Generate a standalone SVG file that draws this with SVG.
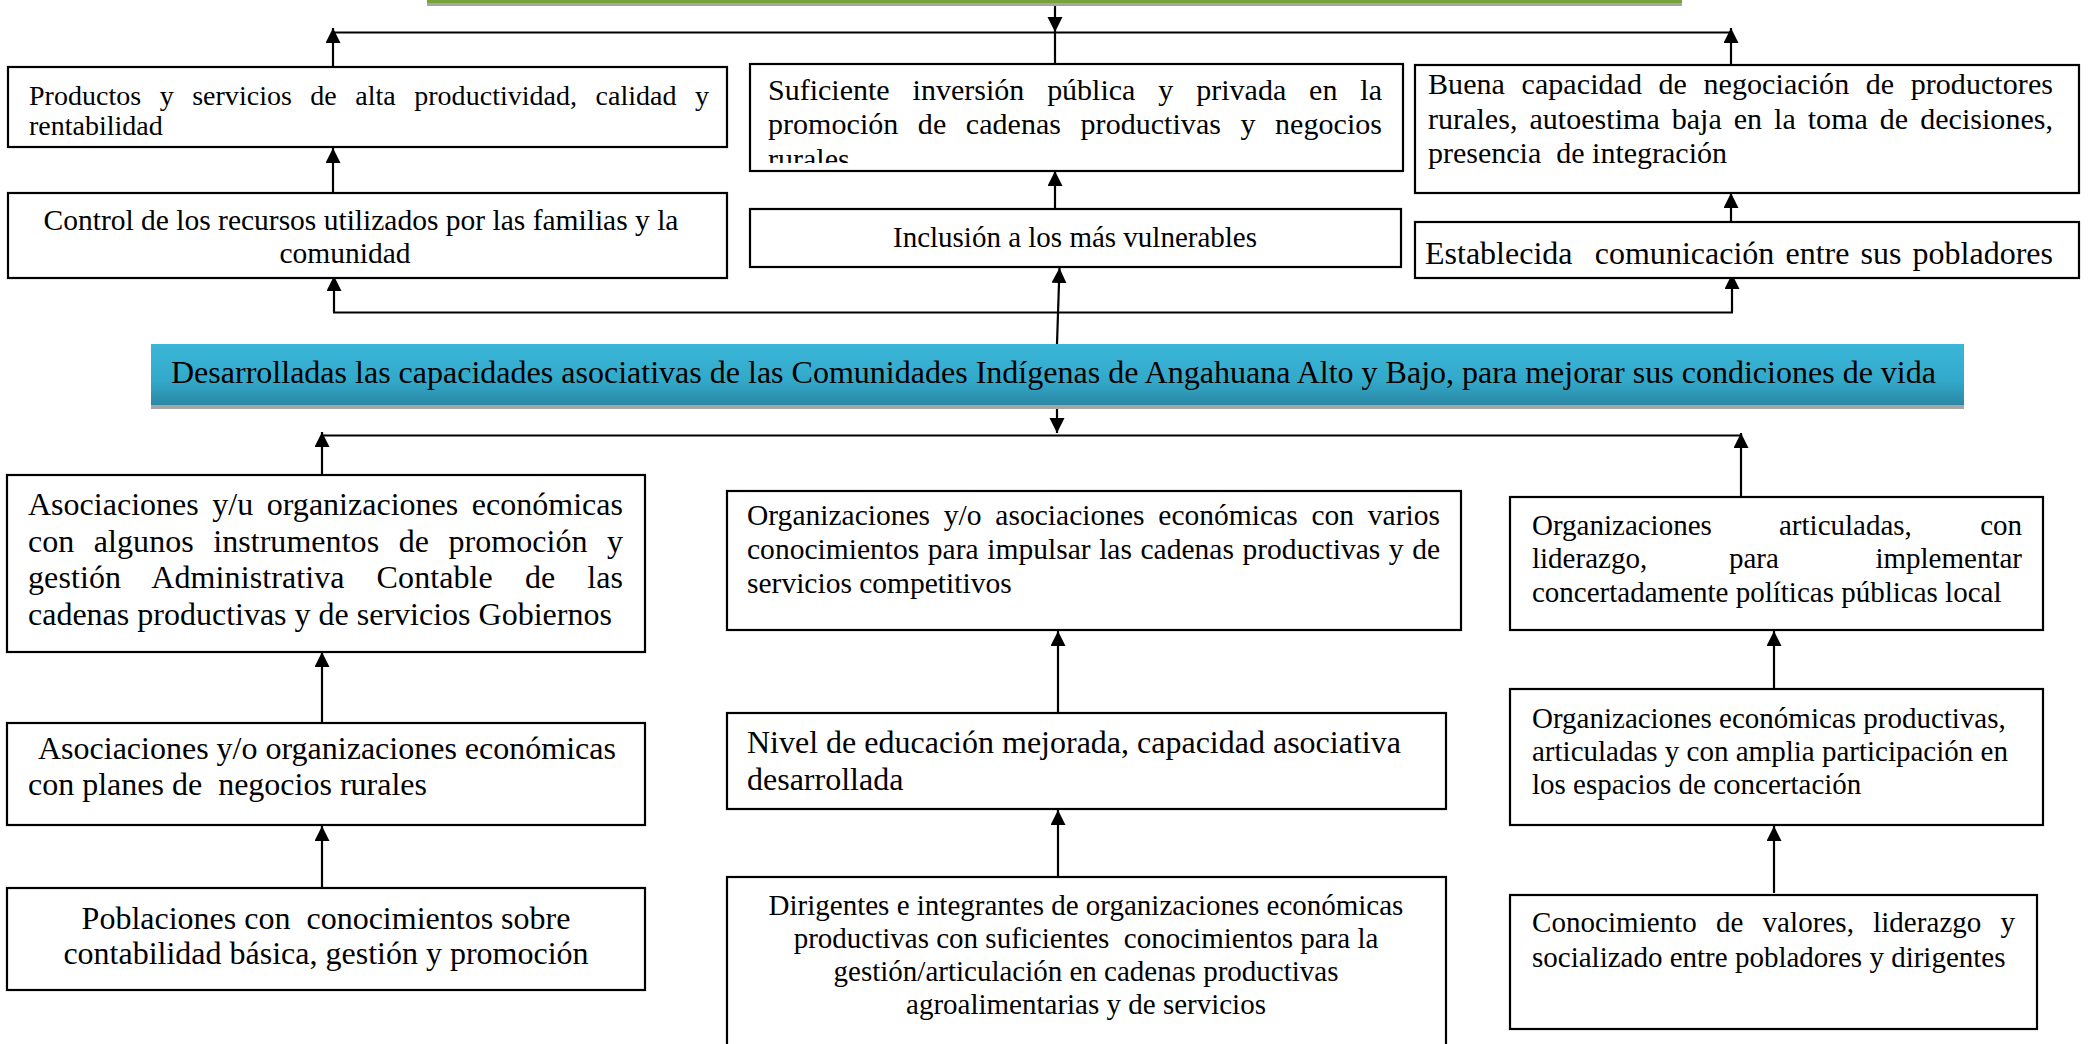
<svg xmlns="http://www.w3.org/2000/svg" width="2089" height="1044" viewBox="0 0 2089 1044">
<style>
.box{fill:#fff;stroke:#000;stroke-width:2.2}
.t{font-family:"Liberation Serif","Times New Roman",serif;fill:#000}
.s28{font-size:28px}.s29{font-size:29px}.s295{font-size:29.5px}.s30{font-size:30px}.s32{font-size:32px}
.c{text-anchor:middle}.e{text-anchor:end}
.ln{fill:none;stroke:#000;stroke-width:2.2}
.ar{fill:none;stroke:#000;stroke-width:2.2;marker-end:url(#ah)}
</style>
<defs>
<marker id="ah" markerWidth="16" markerHeight="16" refX="15" refY="7.5" orient="auto" markerUnits="userSpaceOnUse"><path d="M0,0 L15,7.5 L0,15 z" fill="#000"/></marker>
<linearGradient id="bg" x1="0" y1="0" x2="0" y2="1"><stop offset="0" stop-color="#3ab6d8"/><stop offset="0.6" stop-color="#33a9ca"/><stop offset="1" stop-color="#2a88a4"/></linearGradient>
<clipPath id="clip2"><rect x="750" y="64" width="653" height="99"/></clipPath>
</defs>
<rect width="2089" height="1044" fill="#fff"/>

<g id="goal-bar">
<rect x="427" y="0" width="1255" height="6" fill="#a6a6a6"/>
<rect x="427" y="0" width="1255" height="3" fill="#78a33c"/>
</g>

<g id="connectors">
<path class="ar" d="M1055,6 V32"/>
<path class="ln" d="M1055,32 V64"/>
<path class="ln" d="M333,32.5 H1731"/>
<path class="ar" d="M333,67 V28"/>
<path class="ar" d="M1731,65 V28"/>
<path class="ar" d="M333,193 V148"/>
<path class="ar" d="M1055,209 V171"/>
<path class="ar" d="M1731,222 V193"/>
<path class="ln" d="M333,312.5 H1733"/>
<path class="ar" d="M334,312 V276"/>
<path class="ar" d="M1732,312 V274"/>
<path class="ar" d="M1057,344 L1059.5,268"/>
<path class="ar" d="M1057,409 V433"/>
<path class="ln" d="M322,435.5 H1742"/>
<path class="ar" d="M322,475 V432"/>
<path class="ar" d="M1741,496 V433"/>
<path class="ar" d="M322,723 V652"/>
<path class="ar" d="M322,888 V826"/>
<path class="ar" d="M1058,713 V631"/>
<path class="ar" d="M1058,877 V810"/>
<path class="ar" d="M1774,689 V631"/>
<path class="ar" d="M1774,893 V826"/>
</g>

<g id="n-productos">
<rect class="box" x="8" y="67" width="719" height="80"/>
<text class="t s28" x="29" y="105" word-spacing="11.4" textLength="680" lengthAdjust="spacing">Productos y servicios de alta productividad, calidad y</text>
<text class="t s28" x="29" y="135">rentabilidad</text>
</g>

<g id="n-inversion">
<rect class="box" x="750" y="64" width="653" height="107"/>
<g clip-path="url(#clip2)">
<text class="t s30" x="768" y="100" word-spacing="15.4" textLength="614" lengthAdjust="spacing">Suficiente inversión pública y privada en la</text>
<text class="t s30" x="768" y="134" word-spacing="12" textLength="614" lengthAdjust="spacing">promoción de cadenas productivas y negocios</text>
<text class="t s30" x="768" y="169">rurales</text>
</g>
</g>

<g id="n-negociacion">
<rect class="box" x="1415" y="65" width="664" height="128"/>
<text class="t s30" x="1428" y="94" word-spacing="8.9" textLength="625" lengthAdjust="spacing">Buena capacidad de negociación de productores</text>
<text class="t s30" x="1428" y="128.5" word-spacing="4.4" textLength="625" lengthAdjust="spacing">rurales, autoestima baja en la toma de decisiones,</text>
<text class="t s30" x="1428" y="163" xml:space="preserve">presencia  de integración</text>
</g>

<g id="n-control">
<rect class="box" x="8" y="193" width="719" height="85"/>
<text class="t s295 c" x="361" y="230">Control de los recursos utilizados por las familias y la</text>
<text class="t s295 c" x="345" y="263">comunidad</text>
</g>

<g id="n-inclusion">
<rect class="box" x="750" y="209" width="651" height="58"/>
<text class="t s29 c" x="1075" y="247">Inclusión a los más vulnerables</text>
</g>

<g id="n-comunicacion">
<rect class="box" x="1415" y="222" width="664" height="56"/>
<text class="t s32" x="1425" y="264" word-spacing="3.1" textLength="628" lengthAdjust="spacing" xml:space="preserve">Establecida  comunicación entre sus pobladores</text>
</g>

<g id="n-proposito">
<rect x="151" y="348" width="1813" height="61" fill="#a6a6a6"/>
<rect x="151" y="344" width="1813" height="61" fill="url(#bg)"/>
<text class="t" x="171" y="383" font-size="31" textLength="1765" lengthAdjust="spacingAndGlyphs">Desarrolladas las capacidades asociativas de las Comunidades Indígenas de Angahuana Alto y Bajo, para mejorar sus condiciones de vida</text>
</g>

<g id="n-instrumentos">
<rect class="box" x="7" y="475" width="638" height="177"/>
<text class="t s32" x="28" y="515" word-spacing="5.5" textLength="595" lengthAdjust="spacing">Asociaciones y/u organizaciones económicas</text>
<text class="t s32" x="28" y="551.7" word-spacing="11.4" textLength="595" lengthAdjust="spacing">con algunos instrumentos de promoción y</text>
<text class="t s32" x="28" y="588.4" word-spacing="23.9" textLength="595" lengthAdjust="spacing">gestión Administrativa Contable de las</text>
<text class="t s32" x="28" y="625">cadenas productivas y de servicios Gobiernos</text>
</g>

<g id="n-planes">
<rect class="box" x="7" y="723" width="638" height="102"/>
<text class="t s32" x="38" y="759">Asociaciones y/o organizaciones económicas</text>
<text class="t s32" x="28" y="795" xml:space="preserve">con planes de  negocios rurales</text>
</g>

<g id="n-poblaciones">
<rect class="box" x="7" y="888" width="638" height="102"/>
<text class="t s32 c" x="326" y="929" xml:space="preserve">Poblaciones con  conocimientos sobre</text>
<text class="t s32 c" x="326" y="964">contabilidad básica, gestión y promoción</text>
</g>

<g id="n-conocimientos">
<rect class="box" x="727" y="491" width="734" height="139"/>
<text class="t s295" x="747" y="525" word-spacing="6.4" textLength="693" lengthAdjust="spacing">Organizaciones y/o asociaciones económicas con varios</text>
<text class="t s295" x="747" y="559" word-spacing="1.1" textLength="693" lengthAdjust="spacing">conocimientos para impulsar las cadenas productivas y de</text>
<text class="t s295" x="747" y="593">servicios competitivos</text>
</g>

<g id="n-educacion">
<rect class="box" x="727" y="713" width="719" height="96"/>
<text class="t s32" x="747" y="753">Nivel de educación mejorada, capacidad asociativa</text>
<text class="t s32" x="747" y="790">desarrollada</text>
</g>

<g id="n-dirigentes">
<rect class="box" x="727" y="877" width="719" height="190"/>
<text class="t s29 c" x="1086" y="915">Dirigentes e integrantes de organizaciones económicas</text>
<text class="t s29 c" x="1086" y="948" xml:space="preserve">productivas con suficientes  conocimientos para la</text>
<text class="t s29 c" x="1086" y="981">gestión/articulación en cadenas productivas</text>
<text class="t s29 c" x="1086" y="1014">agroalimentarias y de servicios</text>
</g>

<g id="n-articuladas">
<rect class="box" x="1510" y="497" width="533" height="133"/>
<text class="t s29" x="1532" y="535">Organizaciones</text>
<text class="t s29" x="1779" y="535">articuladas,</text>
<text class="t s29 e" x="2022" y="535">con</text>
<text class="t s29" x="1532" y="568">liderazgo,</text>
<text class="t s29" x="1729" y="568">para</text>
<text class="t s29 e" x="2022" y="568">implementar</text>
<text class="t s29" x="1532" y="602">concertadamente políticas públicas local</text>
</g>

<g id="n-participacion">
<rect class="box" x="1510" y="689" width="533" height="136"/>
<text class="t s29" x="1532" y="728">Organizaciones económicas productivas,</text>
<text class="t s29" x="1532" y="761">articuladas y con amplia participación en</text>
<text class="t s29" x="1532" y="794">los espacios de concertación</text>
</g>

<g id="n-valores">
<rect class="box" x="1510" y="895" width="527" height="134"/>
<text class="t s29" x="1532" y="932" word-spacing="11.8" textLength="483" lengthAdjust="spacing">Conocimiento de valores, liderazgo y</text>
<text class="t s29" x="1532" y="967">socializado entre pobladores y dirigentes</text>
</g>
</svg>
